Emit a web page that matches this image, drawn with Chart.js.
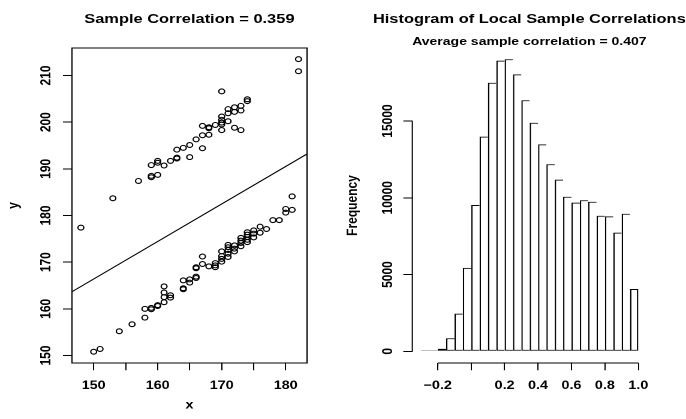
<!DOCTYPE html>
<html><head><meta charset="utf-8">
<script src="https://cdn.jsdelivr.net/npm/chart.js@4.4.0/dist/chart.umd.min.js"></script>
<style>
html,body{margin:0;padding:0;background:#fff;overflow:hidden;}
#frame{position:relative;width:686px;height:419px;overflow:hidden;background:#fff;}
#stage{position:absolute;left:0;top:0;width:572px;height:419px;transform:scaleX(1.1993007);transform-origin:0 0;}
#stage canvas{position:absolute;top:0;}
#c1{left:0;} #c2{left:286px;}
.ttl{position:absolute;white-space:nowrap;font-family:'Liberation Sans',Arial,Helvetica,sans-serif;font-weight:bold;color:#000;text-align:center;width:400px;}
#t1{left:-42.1px;top:11.2px;font-size:13.7px;line-height:16px;}
#t2{left:241.4px;top:11.2px;font-size:13.7px;line-height:16px;}
#t3{left:241.4px;top:33.9px;font-size:11.7px;line-height:14px;}
</style></head><body>
<div id="frame"><div id="stage">
<canvas id="c1" width="286" height="419"></canvas>
<canvas id="c2" width="286" height="419"></canvas>
<div class="ttl" id="t1">Sample Correlation = 0.359</div>
<div class="ttl" id="t2">Histogram of Local Sample Correlations</div>
<div class="ttl" id="t3">Average sample correlation = 0.407</div>
</div></div>
<script>
// ---- data: scatter (upper group) ----
const upperX = [148,153,157,159,159,160,159,160,160,161,162,163,163,165,163,164,165,166,167,167,168,167,168,168,169,170,170,170,170,170,171,171,171,172,172,172,173,173,173,174,174,170,182,182];
const upperY = [177.4,183.7,187.4,188.2,188.5,188.7,190.8,191.3,191.7,190.7,191.7,192.2,192.4,192.5,194.1,194.5,195.1,196.3,194.4,197.2,197.3,199.2,198.7,198.9,199.4,198.3,199.5,199.9,200.5,201.2,200.2,201.9,202.8,198.8,202.2,203.2,198.3,202.5,203.5,204.5,204.9,206.6,210.9,213.5];
// ---- data: scatter (lower group) ----
const lowerX = [150,151,154,156,158,158,159,159,160,160,161,161,161,161,162,162,164,164,164,165,165,166,166,166,166,167,167,168,169,169,169,170,170,170,170,171,171,171,171,171,172,172,172,173,173,173,173,174,174,174,174,174,175,175,175,176,176,177,178,179,180,180,181,181];
const lowerY = [150.8,151.4,155.2,156.7,158.1,160.0,159.9,160.2,160.6,160.8,161.4,162.5,163.5,164.8,162.4,162.9,164.2,164.4,166.1,165.6,166.3,166.6,166.9,168.7,168.9,169.6,171.2,169.1,168.9,169.3,169.8,170.1,170.7,171.3,172.3,171.1,171.8,172.6,173.2,173.7,172.3,172.9,173.6,173.4,174.1,174.6,175.2,174.3,174.8,175.4,175.9,176.4,175.3,176.1,176.8,176.3,177.6,177.1,179,179,180.6,181.4,181.2,184.1];
// fitted regression line y = a + b x
const fitIntercept = 45.84;
const fitSlope = 0.8037;
// scatter axes
const scatterXTicks = [150,155,160,165,170,175,180];
const scatterXTickLabels = ['150','','160','','170','','180'];
const scatterYTicks = [150,160,170,180,190,200,210];
const scatterYTickLabels = ['150','160','170','180','190','200','210'];
// ---- data: histogram ----
const histBreaks = [-0.3,-0.25,-0.2,-0.15,-0.1,-0.05,0,0.05,0.1,0.15,0.2,0.25,0.3,0.35,0.4,0.45,0.5,0.55,0.6,0.65,0.7,0.75,0.8,0.85,0.9,0.95,1.0];
const histCounts = [5,20,170,850,2450,5430,9530,13980,17490,18930,19020,18040,16350,14890,13480,12180,11180,10070,9680,9840,9740,8830,8790,7730,8960,4060];
const histXTicks = [-0.2,0,0.2,0.4,0.6,0.8,1.0];
const histXTickLabels = ['\u22120.2','','0.2','0.4','0.6','0.8','1.0'];
const histYTicks = [0,5000,10000,15000];
const histYTickLabels = ['0','5000','10000','15000'];

Chart.defaults.font.family = "'Liberation Sans', Arial, Helvetica, sans-serif";
Chart.defaults.color = '#000';

const tickFont = {size: 12, weight: 'bold'};
function fixedTicks(values){ return function(scale){ scale.ticks = values.map(v => ({value: v})); }; }
function tickGrid(len){ return {display: true, drawOnChartArea: false, drawTicks: true, tickLength: len, color: '#000', lineWidth: 1, offset: false}; }

const boxPlugin = {
  id: 'plotBox',
  afterDatasetsDraw(chart){
    const {ctx, chartArea: a} = chart;
    ctx.save(); ctx.strokeStyle = '#000'; ctx.lineWidth = 1;
    ctx.strokeRect(a.left, a.top, a.right - a.left, a.bottom - a.top);
    ctx.restore();
  }
};
const axisLinePlugin = {
  id: 'axisLines',
  afterDraw(chart){
    const {ctx, chartArea: a, scales} = chart;
    const xs = scales.x, ys = scales.y;
    ctx.save(); ctx.strokeStyle = '#000'; ctx.lineWidth = 1;
    ctx.beginPath();
    ctx.moveTo(xs.getPixelForValue(histXTicks[0]), a.bottom);
    ctx.lineTo(xs.getPixelForValue(histXTicks[histXTicks.length-1]), a.bottom);
    ctx.moveTo(a.left, ys.getPixelForValue(histYTicks[0]));
    ctx.lineTo(a.left, ys.getPixelForValue(histYTicks[histYTicks.length-1]));
    ctx.stroke();
    ctx.restore();
  }
};

// ---- scatter chart ----
const xMin = 146.61, xMax = 183.33;
const pts = upperX.map((x, i) => ({x: x, y: upperY[i]})).concat(lowerX.map((x, i) => ({x: x, y: lowerY[i]})));
new Chart(document.getElementById('c1'), {
  type: 'scatter',
  data: { datasets: [
    { data: pts, pointStyle: 'circle', pointRadius: 2.45, pointBorderWidth: 1.1, borderColor: '#000', pointBorderColor: '#000', backgroundColor: 'rgba(0,0,0,0)', pointBackgroundColor: 'rgba(0,0,0,0)' },
    { type: 'line', data: [{x: xMin, y: fitIntercept + fitSlope * xMin}, {x: xMax, y: fitIntercept + fitSlope * xMax}], showLine: true, borderColor: '#000', borderWidth: 1, pointRadius: 0, fill: false, tension: 0 }
  ]},
  options: {
    responsive: false, animation: false, devicePixelRatio: 2, events: [],
    layout: { padding: {left: 0, right: 30, top: 48, bottom: 0} },
    plugins: { legend: {display: false}, tooltip: {enabled: false} },
    scales: {
      x: { type: 'linear', min: xMin, max: xMax,
        afterBuildTicks: fixedTicks(scatterXTicks), afterFit: s => { s.height = 56; },
        grid: tickGrid(7.3), border: {display: false},
        ticks: { autoSkip: false, minRotation: 0, maxRotation: 0, padding: 8, font: tickFont, color: '#000', callback: (v, i) => scatterXTickLabels[i] },
        title: { display: true, text: 'x', color: '#000', font: {size: 12, weight: 'bold'}, padding: {top: 0, bottom: 6.8} } },
      y: { type: 'linear', min: 148.39, max: 215.89,
        afterBuildTicks: fixedTicks(scatterYTicks), afterFit: s => { s.width = 60; },
        grid: tickGrid(7.5), border: {display: false},
        ticks: { autoSkip: false, minRotation: 90, maxRotation: 90, crossAlign: 'center', padding: 4, font: tickFont, color: '#000', callback: (v, i) => scatterYTickLabels[i] },
        title: { display: true, text: 'y', color: '#000', font: {size: 12, weight: 'bold'}, padding: {top: 4.5, bottom: 0} } }
    }
  },
  plugins: [boxPlugin]
});

// ---- histogram ----
const histData = histCounts.map((c, i) => ({x: (histBreaks[i] + histBreaks[i+1]) / 2, y: c}));
new Chart(document.getElementById('c2'), {
  type: 'bar',
  data: { datasets: [{ data: histData, backgroundColor: '#fff', borderColor: '#000', borderSkipped: false, inflateAmount: 0,
    borderWidth: ctx => ({top: 1, left: 1.2, bottom: 1, right: ctx.dataIndex === histCounts.length - 1 ? 1.2 : 0}),
    minBarLength: 1,
    barPercentage: 1, categoryPercentage: 1 }] },
  options: {
    responsive: false, animation: false, devicePixelRatio: 2, events: [],
    layout: { padding: {left: 0, right: 32.5, top: 48, bottom: 0} },
    plugins: { legend: {display: false}, tooltip: {enabled: false} },
    scales: {
      x: { type: 'linear', min: -0.352, max: 1.052, offset: false,
        afterBuildTicks: fixedTicks(histXTicks), afterFit: s => { s.height = 56; },
        grid: tickGrid(7.3), border: {display: false},
        ticks: { autoSkip: false, minRotation: 0, maxRotation: 0, padding: 8, font: tickFont, color: '#000', callback: (v, i) => histXTickLabels[i] } },
      y: { type: 'linear', min: -762, max: 19755,
        afterBuildTicks: fixedTicks(histYTicks), afterFit: s => { s.width = 57.8; },
        grid: tickGrid(7.5), border: {display: false},
        ticks: { autoSkip: false, minRotation: 90, maxRotation: 90, crossAlign: 'center', padding: -4, font: tickFont, color: '#000', callback: (v, i) => histYTickLabels[i] },
        title: { display: true, text: 'Frequency', color: '#000', font: {size: 12, weight: 'bold'}, padding: {top: 1, bottom: 0} } }
    }
  },
  plugins: [axisLinePlugin]
});
</script>
</body></html>
